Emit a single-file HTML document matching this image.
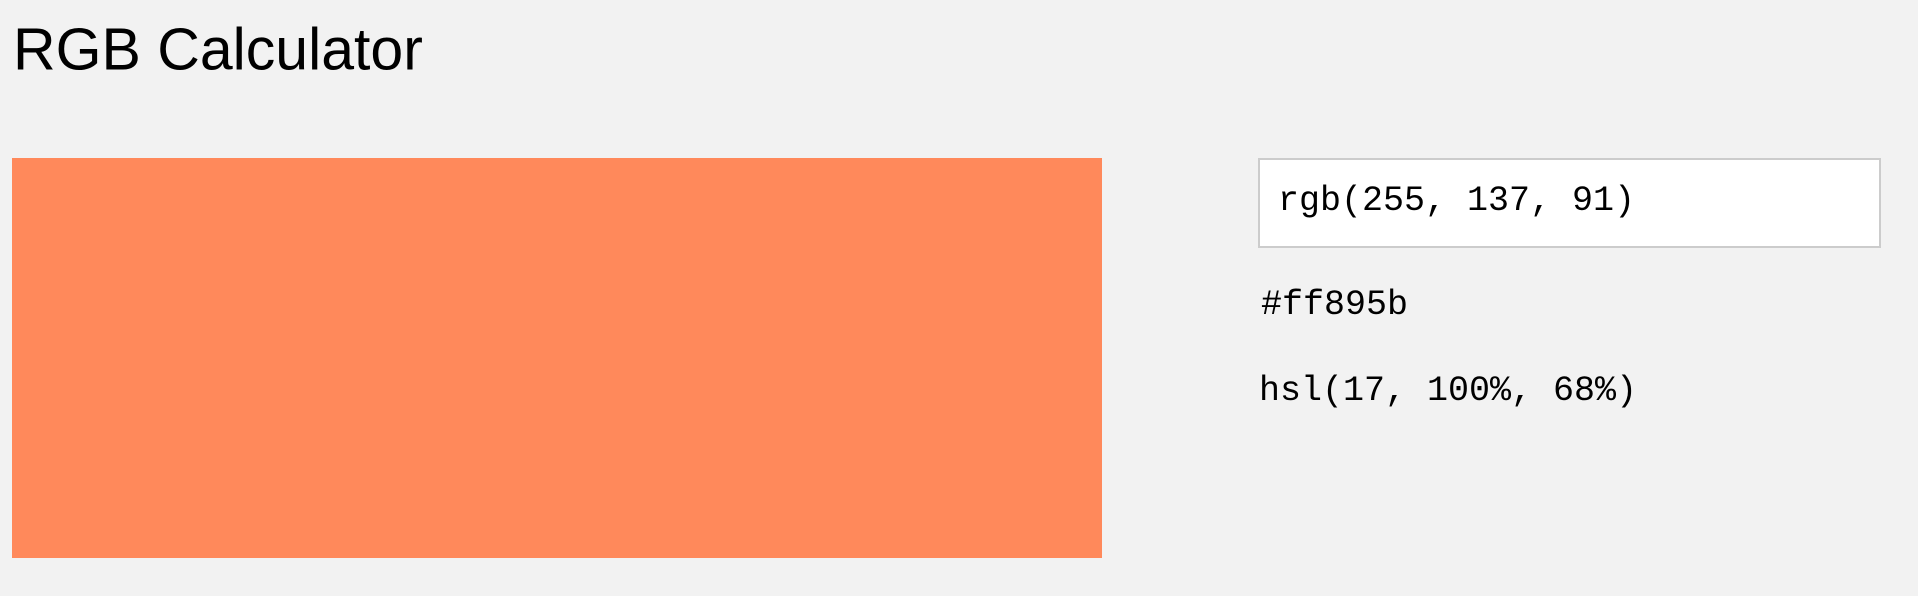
<!DOCTYPE html>
<html>
<head>
<meta charset="utf-8">
<style>
html,body{margin:0;padding:0;}
body{width:1918px;height:596px;background:#f2f2f2;position:relative;overflow:hidden;}
.t{position:absolute;white-space:nowrap;line-height:1;}
#title{left:13px;top:74px;font-family:"Liberation Sans",sans-serif;font-size:59px;color:#000;transform:translateY(-0.905em);}
#swatch{position:absolute;left:12px;top:158px;width:1090px;height:400px;background:#ff895b;}
#box{position:absolute;left:1258px;top:158px;width:619px;height:86px;background:#fff;border:2px solid #ccc;}
.mono{font-family:"Liberation Mono",monospace;font-size:35px;color:#000;}
#rgb{left:1278px;top:213px;transform:translateY(-0.83em);}
#hex{left:1261px;top:317px;transform:translateY(-0.83em);}
#hsl{left:1259px;top:403px;transform:translateY(-0.83em);}
</style>
</head>
<body>
<div id="title" class="t">RGB Calculator</div>
<div id="swatch"></div>
<div id="box"></div>
<div id="rgb" class="t mono">rgb(255, 137, 91)</div>
<div id="hex" class="t mono">#ff895b</div>
<div id="hsl" class="t mono">hsl(17, 100%, 68%)</div>
</body>
</html>
